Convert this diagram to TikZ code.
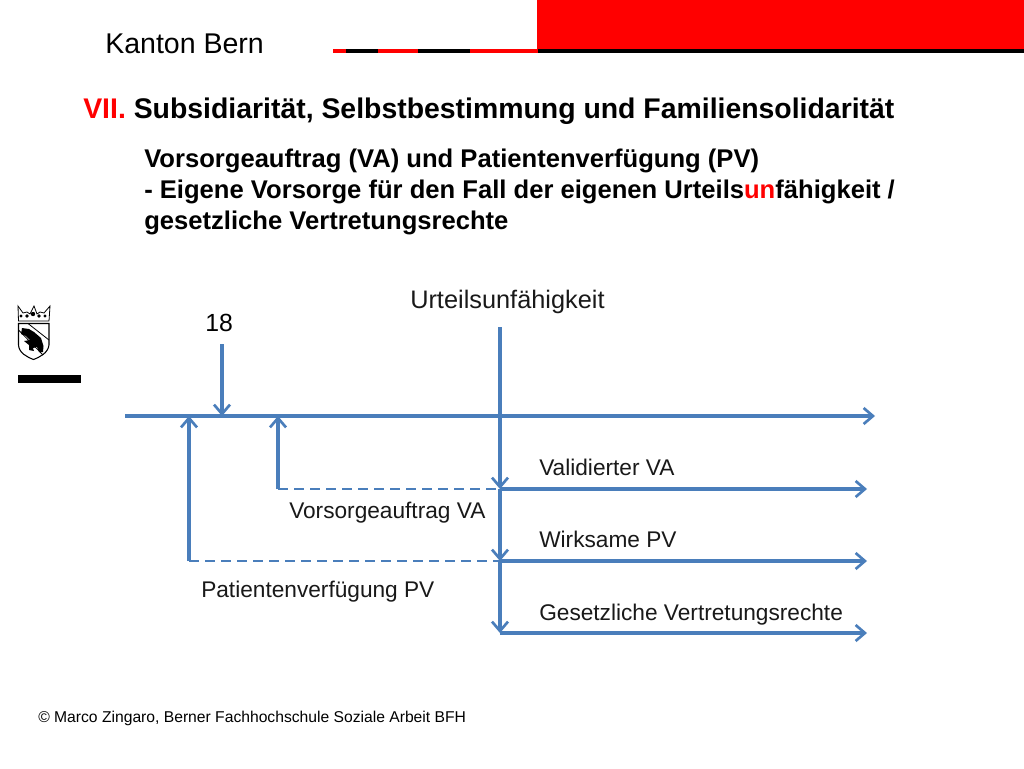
\documentclass[tikz,border=0pt]{standalone}
\usepackage{fontspec}
\setmainfont{Liberation Sans}
\usetikzlibrary{arrows.meta}
\definecolor{ln}{HTML}{4A7EBB}
\definecolor{rd}{HTML}{FF0000}
\tikzset{
 x=0.75pt,y=-0.75pt,
 lbl/.style={inner sep=0pt,anchor=base west,text=black!90,font=\fontsize{17}{20}\selectfont},
 big/.style={inner sep=0pt,anchor=base west,font=\fontsize{21.4}{24}\selectfont},
 tl/.style={inner sep=0pt,anchor=base west,font=\bfseries\fontsize{21.3}{24}\selectfont},
 sub/.style={inner sep=0pt,anchor=base west,font=\bfseries\fontsize{19.2}{22}\selectfont},
 arr/.style={draw=ln,line width=2.3pt,-{Straight Barb[length=7pt,width=12pt,line width=2pt]}},
 axisarr/.style={arr,line width=2.4pt},
 dsh/.style={draw=ln,line width=2.2pt,dash pattern=on 7.5pt off 4.5pt},
}
\begin{document}
\begin{tikzpicture}
\useasboundingbox (0,0) rectangle (1024,768);
\fill[white] (0,0) rectangle (1024,768);
% header
\fill[rd] (537,0) rectangle (1024,50);
\fill[rd] (333,49) rectangle (346,53);
\fill[black] (346,49) rectangle (378,53);
\fill[rd] (378,49) rectangle (418,53);
\fill[black] (418,49) rectangle (470,53);
\fill[rd] (470,49) rectangle (538,53);
\fill[black] (538,49) rectangle (1024,53);
\node[big] (kanton) at (105,53) {Kanton Bern};
\node[tl] (title) at (83,118) {\textcolor{rd}{VII.} Subsidiarität, Selbstbestimmung und Familiensolidarität};
\node[sub] (s1) at (144,167) {Vorsorgeauftrag (VA) und Patientenverfügung (PV)};
\node[sub] (s2) at (144,198) {- Eigene Vorsorge für den Fall der eigenen Urteils\textcolor{rd}{un}fähigkeit /};
\node[sub] (s3) at (144,229) {gesetzliche Vertretungsrechte};
% emblem: crown
\draw[black,line width=0.6pt,line join=miter] (18,306) -- (18.5,321) -- (49,321) -- (50,306) -- (44,313) -- (40,312) -- (37,314) -- (34,306) -- (30,314) -- (27,312) -- (23,313) -- cycle;
\fill[black] (21,316) circle (1.6) (27,316) circle (1.8) (33,314) circle (2.2) (39,316) circle (1.8) (45,316) circle (1.6);
% emblem: shield
\draw[black,line width=0.8pt] (18.5,323.5) -- (49,323.5) -- (49,345) .. controls (48,353) and (40,357) .. (33.5,359.5) .. controls (27,357) and (19,353) .. (18.5,345) -- cycle;
\draw[black,line width=0.6pt] (28,323.5) -- (49,340);
\draw[black,line width=0.6pt] (18.5,330) -- (43,355);
% emblem: bear
\fill[black] (22,328) -- (29,329) -- (34,332) -- (41,338) -- (43.5,346) -- (43,352) -- (39,352) -- (37,347) -- (33,348) -- (34,351) -- (29,350) -- (29,345) -- (24,341) -- (30,340) -- (26,336) -- (21,334) -- cycle;
\fill[black] (18,375) rectangle (81,383);
% timeline
\coordinate (tlA) at (125,416);
\coordinate (tlB) at (875,416);
\draw[axisarr] (tlA) -- (tlB);
\node[inner sep=0pt,anchor=base west,font=\fontsize{18.6}{22}\selectfont] (n18) at (205,331) {18};
\coordinate (a18) at (222,344);
\coordinate (a18e) at (222,416);
\draw[arr] (a18) -- (a18e);
\node[lbl,font=\fontsize{19}{22}\selectfont] (urt) at (410,308) {Urteilsunfähigkeit};
% vertical
\coordinate (v0) at (500,327);
\coordinate (v1) at (500,489);
\coordinate (v2) at (500,561);
\coordinate (v3) at (500,633);
\draw[arr] (v0) -- (v1);
\draw[arr] (v1) -- (v2);
\draw[arr] (v2) -- (v3);
% horizontal
\coordinate (h1) at (867,489);
\coordinate (h2) at (867,561);
\coordinate (h3) at (867,633);
\draw[arr] (v1) -- (h1);
\draw[arr] (v2) -- (h2);
\draw[arr] (v3) -- (h3);
% dashed + up arrows
\coordinate (d1) at (278,489);
\coordinate (u1) at (278,416);
\coordinate (d2) at (189,561);
\coordinate (u2) at (189,416);
\draw[dsh] (d1) -- (v1);
\draw[dsh] (d2) -- (v2);
\draw[arr] (d1) -- (u1);
\draw[arr] (d2) -- (u2);
% labels
\node[lbl] (va) at (539,475) {Validierter VA};
\node[lbl] (vo) at (289,518) {Vorsorgeauftrag VA};
\node[lbl] (wp) at (539,547) {Wirksame PV};
\node[lbl] (pv) at (201,597) {Patientenverfügung PV};
\node[lbl] (gv) at (539,620) {Gesetzliche Vertretungsrechte};
\node[inner sep=0pt,anchor=base west,font=\fontsize{11.75}{13}\selectfont] (copy) at (38,722) {© Marco Zingaro, Berner Fachhochschule Soziale Arbeit BFH};
\end{tikzpicture}
\end{document}
